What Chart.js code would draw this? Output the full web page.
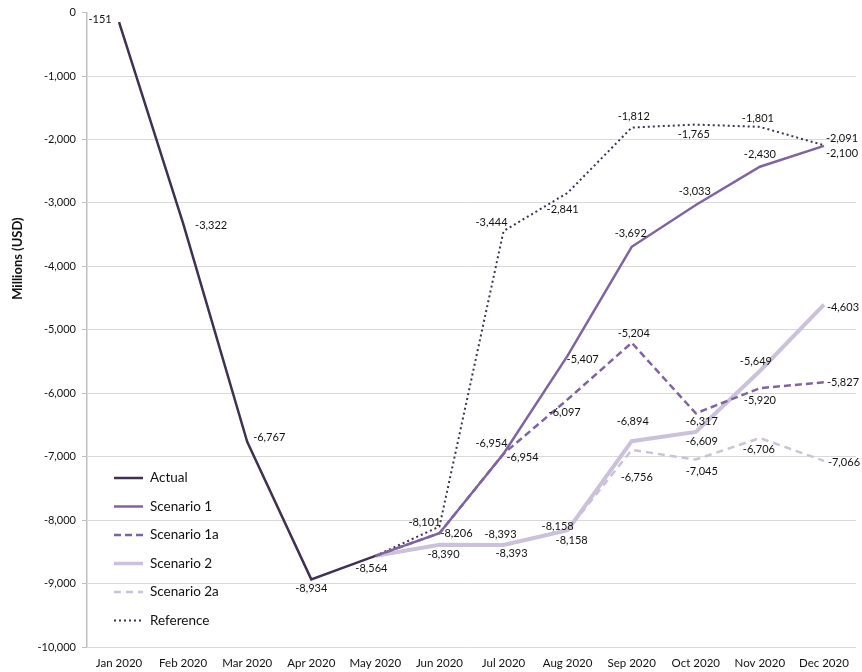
<!DOCTYPE html>
<html>
<head>
<meta charset="utf-8">
<script src="https://cdn.jsdelivr.net/npm/chart.js@4/dist/chart.umd.min.js"></script>
<style>
  html, body { margin: 0; padding: 0; background: #ffffff; }
  #wrap { width: 862px; height: 672px; }
</style>
</head>
<body>
<div id="wrap"><canvas id="c" width="862" height="672"></canvas></div>
<script>
// ---- Data ----
const months = ['Jan 2020','Feb 2020','Mar 2020','Apr 2020','May 2020','Jun 2020','Jul 2020','Aug 2020','Sep 2020','Oct 2020','Nov 2020','Dec 2020'];
const actual     = [-151, -3322, -6767, -8934, -8564, null, null, null, null, null, null, null];
const scenario1  = [null, null, null, null, -8564, -8206, -6954, -5407, -3692, -3033, -2430, -2100];
const scenario1a = [null, null, null, null, -8564, -8206, -6954, -6097, -5204, -6317, -5920, -5827];
const scenario2  = [null, null, null, null, -8564, -8390, -8393, -8158, -6756, -6609, -5649, -4603];
const scenario2a = [null, null, null, null, -8564, -8390, -8393, -8158, -6894, -7045, -6706, -7066];
const reference  = [null, null, null, null, -8564, -8101, -3444, -2841, -1812, -1765, -1801, -2091];
const yTicks = [0, -1000, -2000, -3000, -4000, -5000, -6000, -7000, -8000, -9000, -10000];
const yTitle = 'Millions (USD)';

// ---- Label placement (offset of text centre from point; null = no label) ----
const labelOffsets = {
  'Actual':      [[-19,-3],[28,2],[22,-4],[0,9],[-4,13],null,null,null,null,null,null,null],
  'Scenario 1':  [null,null,null,null,null,[17,0],[19,4],[15,4],[-1,-13],[-1,-14],[0,-12],[18,8]],
  'Scenario 1a': [null,null,null,null,null,null,[-12,-10],[-3,13],[2,-9],[6,8],[0,12],[19,0]],
  'Scenario 2':  [null,null,null,null,null,[4,10],[-3,-11],[-10,-4],[5,36],[6,10],[-4,-10],[19,3]],
  'Scenario 2a': [null,null,null,null,null,null,[8,8],[4,10],[1,-29],[6,12],[-1,11],[20,2]],
  'Reference':   [null,null,null,null,null,[-15,-4],[-12,-9],[-5,17],[2,-11],[-2,10],[-2,-8],[18,-7]]
};

const fmt = v => v.toLocaleString('en-US');
const FONT = 'Lato, "Liberation Sans", sans-serif';

const dataLabelPlugin = {
  id: 'dataLabels',
  afterDatasetsDraw(chart) {
    const ctx = chart.ctx;
    ctx.save();
    ctx.font = '11px ' + FONT;
    ctx.fillStyle = '#111111';
    ctx.textAlign = 'center';
    ctx.textBaseline = 'middle';
    chart.data.datasets.forEach((ds, di) => {
      const offs = labelOffsets[ds.label];
      const meta = chart.getDatasetMeta(di);
      ds.data.forEach((v, i) => {
        if (v === null || !offs || !offs[i]) return;
        const p = meta.data[i];
        ctx.fillText(fmt(v), p.x + offs[i][0], p.y + offs[i][1]);
      });
    });
    ctx.restore();
  }
};

const legendPlugin = {
  id: 'insideLegend',
  afterDraw(chart) {
    const ctx = chart.ctx;
    const a = chart.chartArea;
    const x0 = a.left + 27, x1 = a.left + 56, tx = a.left + 63;
    const y0 = a.bottom - 169, step = 28.5;
    ctx.save();
    chart.data.datasets.forEach((ds, i) => {
      const y = y0 + i * step;
      ctx.beginPath();
      ctx.strokeStyle = ds.borderColor;
      ctx.lineWidth = Math.min(ds.borderWidth, 3.5);
      ctx.setLineDash(ds.borderDash || []);
      ctx.moveTo(x0, y);
      ctx.lineTo(x1, y);
      ctx.stroke();
      ctx.setLineDash([]);
      ctx.font = '13.5px ' + FONT;
      ctx.fillStyle = '#111111';
      ctx.textAlign = 'left';
      ctx.textBaseline = 'middle';
      ctx.fillText(ds.label, tx, y);
    });
    // vertical axis title
    ctx.translate(17.5, a.top + 246);
    ctx.rotate(-Math.PI / 2);
    ctx.font = 'bold 13px ' + FONT;
    ctx.textAlign = 'center';
    ctx.textBaseline = 'middle';
    ctx.fillText(yTitle, 0, 0);
    ctx.restore();
  }
};

const mk = (label, data, color, width, dash) => ({
  label, data, borderColor: color, backgroundColor: color,
  borderWidth: width, borderDash: dash, pointRadius: 0, pointHoverRadius: 0,
  tension: 0, fill: false, spanGaps: false,
  borderCapStyle: 'butt', borderJoinStyle: 'miter'
});

new Chart(document.getElementById('c'), {
  type: 'line',
  data: {
    labels: months,
    datasets: [
      mk('Actual', actual, '#3f3151', 2.5, []),
      mk('Scenario 1', scenario1, '#8064a2', 2.5, []),
      mk('Scenario 1a', scenario1a, '#8064a2', 2.5, [7, 4]),
      mk('Scenario 2', scenario2, '#ccc1da', 4, []),
      mk('Scenario 2a', scenario2a, '#ccc1da', 2.5, [7, 5]),
      mk('Reference', reference, '#403152', 2, [2, 3])
    ]
  },
  options: {
    responsive: false,
    animation: false,
    devicePixelRatio: 1,
    layout: { padding: { left: 0, right: 6, top: 11, bottom: 0 } },
    plugins: { legend: { display: false }, tooltip: { enabled: false } },
    scales: {
      x: {
        type: 'category',
        offset: true,
        grid: { display: false, drawTicks: false },
        border: { display: false },
        ticks: { color: '#111111', font: { family: FONT, size: 11.5 }, padding: 9, maxRotation: 0, autoSkip: false },
        afterFit(scale) { scale.height = 25; }
      },
      y: {
        min: -10000, max: 0,
        afterBuildTicks(scale) { scale.ticks = yTicks.map(v => ({ value: v })); },
        ticks: { color: '#111111', font: { family: FONT, size: 11 }, padding: 6, callback: v => fmt(v) },
        grid: {
          color: ctx => (ctx.tick && ctx.tick.value === 0) ? 'rgba(0,0,0,0)' : '#d9d9d9',
          borderDash: [3, 3],
          tickBorderDash: [],
          tickColor: '#bfbfbf',
          tickLength: 5,
          lineWidth: 1
        },
        border: { display: true, color: '#bfbfbf', width: 1.5 },
        title: { display: false },
        afterFit(scale) { scale.width = 87; }
      }
    }
  },
  plugins: [dataLabelPlugin, legendPlugin]
});
</script>
</body>
</html>
